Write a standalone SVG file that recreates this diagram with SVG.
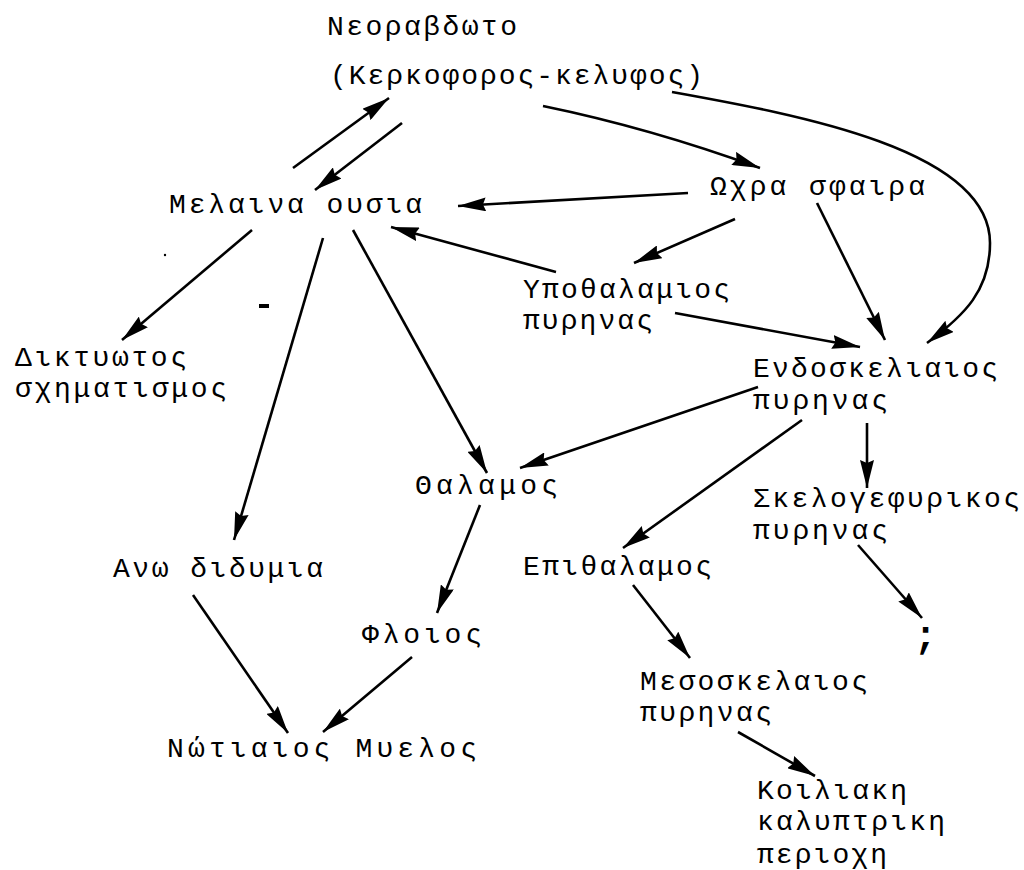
<svg xmlns="http://www.w3.org/2000/svg" width="1024" height="870" viewBox="0 0 1024 870">
<style>
text{font-family:"Liberation Mono","DejaVu Sans Mono",monospace;font-size:28px;fill:#000;}
.c line,.c path{stroke:#000;stroke-width:2.6;fill:none;marker-end:url(#ah);}
</style>
<defs>
<marker id="ah" markerUnits="userSpaceOnUse" markerWidth="30" markerHeight="14" refX="28" refY="7" orient="auto" viewBox="0 0 30 14">
<path d="M0,0 L28,7 L0,14 L3,7 z" fill="#000"/>
</marker>
</defs>
<rect width="1024" height="870" fill="#fff"/>
<g class="c" id="connectors">
<line x1="293" y1="168" x2="389" y2="98"/>
<line x1="402" y1="123" x2="315" y2="190"/>
<path d="M543,106 Q650,128 760,168"/>
<path d="M672,92 C800,115 990,150 990,243 C990,290 965,315 927,343"/>
<line x1="688" y1="193" x2="458" y2="206"/>
<line x1="735" y1="219" x2="634" y2="263"/>
<line x1="817" y1="203" x2="885" y2="340"/>
<line x1="556" y1="272" x2="391" y2="227"/>
<line x1="675" y1="313" x2="860" y2="347"/>
<line x1="252" y1="230" x2="122" y2="340"/>
<line x1="323" y1="238" x2="234" y2="540"/>
<line x1="353" y1="230" x2="487" y2="473"/>
<line x1="758" y1="387" x2="520" y2="468"/>
<line x1="802" y1="420" x2="623" y2="548"/>
<line x1="867" y1="423" x2="867" y2="488"/>
<line x1="858" y1="545" x2="922" y2="618"/>
<line x1="480" y1="505" x2="437" y2="613"/>
<line x1="193" y1="595" x2="288" y2="733"/>
<line x1="412" y1="657" x2="323" y2="732"/>
<line x1="633" y1="585" x2="690" y2="658"/>
<line x1="738" y1="732" x2="815" y2="776"/>
</g>
<g id="marks">
<rect x="259" y="304" width="10" height="4" fill="#000"/>
<circle cx="165" cy="255" r="1.2" fill="#000"/>
</g>
<g id="neoraveoto">
<text x="327" y="35" textLength="190" lengthAdjust="spacing">Νεοραβδωτο</text>
<text x="330" y="84" textLength="373" lengthAdjust="spacing">(Κερκοφορος-κελυφος)</text>
</g>
<g id="melaina"><text x="169" y="213" textLength="253" lengthAdjust="spacing">Μελαινα ουσια</text></g>
<g id="ochra"><text x="710" y="195" textLength="215" lengthAdjust="spacing">Ωχρα σφαιρα</text></g>
<g id="ypothalamios">
<text x="523" y="298" textLength="207" lengthAdjust="spacing">Υποθαλαμιος</text>
<text x="523" y="329" textLength="130" lengthAdjust="spacing">πυρηνας</text>
</g>
<g id="diktyotos">
<text x="15" y="366" textLength="172" lengthAdjust="spacing">Δικτυωτος</text>
<text x="15" y="397" textLength="212" lengthAdjust="spacing">σχηματισμος</text>
</g>
<g id="endoskeliaios">
<text x="753" y="377" textLength="245" lengthAdjust="spacing">Ενδοσκελιαιος</text>
<text x="753" y="409" textLength="135" lengthAdjust="spacing">πυρηνας</text>
</g>
<g id="thalamos"><text x="415" y="494" textLength="143" lengthAdjust="spacing">Θαλαμος</text></g>
<g id="skelogefyrikos">
<text x="753" y="507" textLength="267" lengthAdjust="spacing">Σκελογεφυρικος</text>
<text x="753" y="539" textLength="135" lengthAdjust="spacing">πυρηνας</text>
</g>
<g id="ano-didymia"><text x="113" y="577" textLength="210" lengthAdjust="spacing">Ανω διδυμια</text></g>
<g id="epithalamos"><text x="523" y="575" textLength="189" lengthAdjust="spacing">Επιθαλαμος</text></g>
<g id="floios"><text x="362" y="643" textLength="120" lengthAdjust="spacing">Φλοιος</text></g>
<g id="question"><text x="914" y="648" style="font-weight:bold;font-size:38px">;</text></g>
<g id="mesoskelaios">
<text x="640" y="690" textLength="228" lengthAdjust="spacing">Μεσοσκελαιος</text>
<text x="640" y="721" textLength="132" lengthAdjust="spacing">πυρηνας</text>
</g>
<g id="notiaios"><text x="167" y="757" textLength="310" lengthAdjust="spacing">Νώτιαιος Μυελος</text></g>
<g id="koiliaki">
<text x="757" y="799" textLength="150" lengthAdjust="spacing">Κοιλιακη</text>
<text x="757" y="830" textLength="188" lengthAdjust="spacing">καλυπτρικη</text>
<text x="757" y="863" textLength="130" lengthAdjust="spacing">περιοχη</text>
</g>
</svg>
